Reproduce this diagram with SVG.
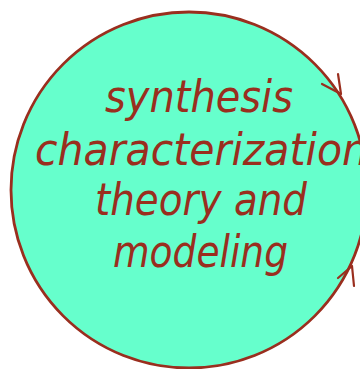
<svg xmlns="http://www.w3.org/2000/svg" width="360" height="369" viewBox="0 0 360 369">
<style>
.ring{fill:#66FFCC;stroke:#9A2E1E;stroke-width:2.8}
.lbl{font-family:"DejaVu Sans",sans-serif;font-style:italic;font-size:44px;fill:#9A2E1E}
.arr{fill:none;stroke:#9A2E1E;stroke-width:2.2;stroke-linecap:round;stroke-linejoin:round}
</style>
<g id="cycle">
<circle class="ring" cx="189" cy="190" r="178"/>
<text class="lbl" x="105" y="112" textLength="188" lengthAdjust="spacingAndGlyphs">synthesis</text>
<text class="lbl" x="35" y="165" textLength="333" lengthAdjust="spacingAndGlyphs">characterization</text>
<text class="lbl" x="95" y="215" textLength="212" lengthAdjust="spacingAndGlyphs">theory and</text>
<text class="lbl" x="113" y="267" textLength="175" lengthAdjust="spacingAndGlyphs">modeling</text>
</g>
<g id="connectors">
<path class="arr" d="M322,84 L341,94 L338,74"/>
<path class="arr" d="M338,278 L352,266 L354,286"/>
</g>
</svg>
